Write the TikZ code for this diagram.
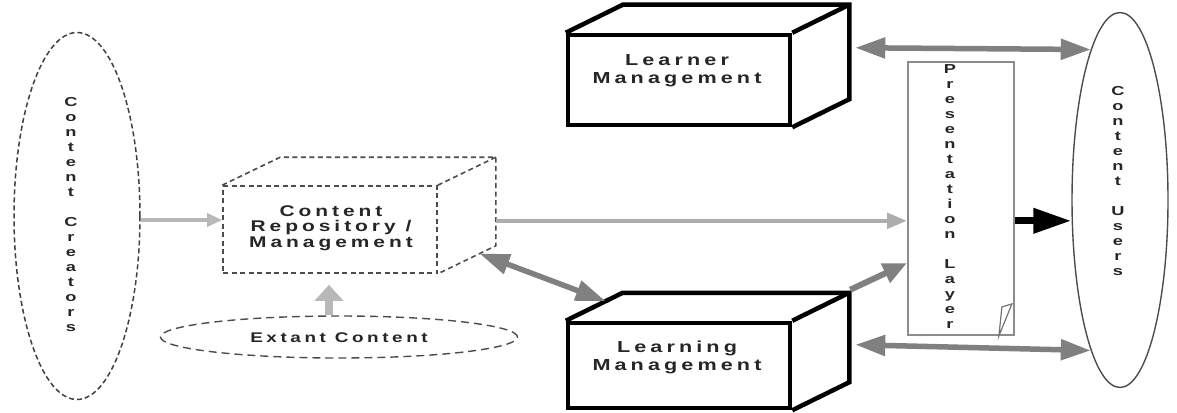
\documentclass[tikz,border=0pt]{standalone}
\usepackage{fontspec}
\setmainfont{Liberation Sans}
\newfontfamily\dfont{Liberation Sans Bold}[LetterSpace=19]
\newfontfamily\vfont{Liberation Sans Bold}
\usetikzlibrary{arrows.meta,shapes.geometric,calc}
\newcommand{\wx}[1]{\scalebox{1.35}[1]{#1}}
\newcommand{\vtext}[1]{\scalebox{1.4}[1]{\begin{tabular}{@{}c@{}}#1\end{tabular}}}
\begin{document}
\begin{tikzpicture}[x=1pt,y=-1pt,
  lab/.style={font=\dfont\fontsize{16}{18}\selectfont, text=black!85, align=center, inner sep=0pt},
  vlab/.style={font=\vfont\fontsize{13}{15}\selectfont, text=black!85, inner sep=0pt},
  heavybox/.style={draw=black, line width=4.5pt, line join=miter},
  dashbox/.style={draw=black!70, line width=1.6pt, dash pattern=on 5pt off 3.5pt},
  lg/.style={draw=black!28, line width=3.5pt, -{Triangle[length=15pt,width=13pt]}},
  lgup/.style={draw=black!28, line width=8pt, -{Triangle[length=16pt,width=28pt]}},
  lgmid/.style={draw=black!32, line width=4.5pt, -{Triangle[length=20pt,width=15pt]}},
  dg/.style={draw=black!50, line width=5.5pt, {Triangle[length=30pt,width=20pt]}-{Triangle[length=30pt,width=20pt]}},
  dgone/.style={draw=black!50, line width=6pt, -{Triangle[length=24pt,width=20pt]}},
  blk/.style={draw=black, line width=7pt, -{Triangle[length=38pt,width=24pt]}}
]
\useasboundingbox (0,0) rectangle (1177,412);

% Content creators
\node[ellipse, draw=black!75, line width=1.5pt, dash pattern=on 5pt off 3pt, minimum width=126pt, minimum height=367pt, inner sep=0pt] (cc) at (77,216) {};
\node[vlab] (cct) at (71,216) {\vtext{C\\o\\n\\t\\e\\n\\t\\ \\C\\r\\e\\a\\t\\o\\r\\s}};

% Content repository (dashed box)
\node[dashbox, minimum width=214pt, minimum height=87pt, inner sep=0pt] (cr) at (330,229.5) {};
\draw[dashbox] (cr.north west) -- ++(58,-28) -| ($(cr.south east)+(58,-28)$) coordinate (crbr) -- (cr.south east);
\draw[dashbox] (cr.north east) -- ++(58,-28);
\node[lab, font=\dfont\fontsize{15.5}{15.5}\selectfont] (crt) at (331,228) {\wx{Content}\\\wx{Repository /}\\\wx{Management}};

% Extant content
\node[ellipse, draw=black!70, line width=1.4pt, dash pattern=on 8pt off 5pt, minimum width=357pt, minimum height=42pt, inner sep=0pt] (ex) at (339,337) {};
\node[lab, font=\dfont\fontsize{14}{14}\selectfont] (ext) at (339,338) {\wx{Extant Content}};

% Learner management
\node[heavybox, minimum width=222pt, minimum height=90pt, inner sep=0pt] (lr) at (679,80) {};
\draw[heavybox] (lr.north west) -- ++(57,-28) -| ($(lr.south east)+(57,-28)$) -- (lr.south east);
\draw[heavybox] (lr.north east) -- ++(57,-28);
\node[lab] (lrt) at (677,71) {\wx{Learner}\\\wx{Management}};

% Learning management
\node[heavybox, minimum width=222pt, minimum height=85pt, inner sep=0pt] (ln) at (679,365.5) {};
\draw[heavybox] (ln.north west) -- ++(57,-28) coordinate (lnbl) -| ($(ln.south east)+(57,-28)$) -- (ln.south east);
\draw[heavybox] (ln.north east) -- ++(57,-28) coordinate (lnbr);
\node[lab] (lnt) at (677,357) {\wx{Learning}\\\wx{Management}};

% Presentation layer
\node[draw=black!45, line width=1.8pt, minimum width=106pt, minimum height=273pt, inner sep=0pt] (pl) at (961,198.5) {};
\draw[draw=black!55, line width=1.2pt] ($(pl.south east)+(-16,0)$) -- ($(pl.south east)+(-13,-29)$) -- ($(pl.south east)+(-3,-32)$) -- cycle;
\node[vlab] (plt) at (950,198) {\vtext{P\\r\\e\\s\\e\\n\\t\\a\\t\\i\\o\\n\\ \\L\\a\\y\\e\\r}};

% Content users
\node[ellipse, draw=black!70, line width=1.4pt, minimum width=96pt, minimum height=375pt, inner sep=0pt] (cu) at (1120,200) {};
\node[vlab] (cut) at (1118,182) {\vtext{C\\o\\n\\t\\e\\n\\t\\ \\U\\s\\e\\r\\s}};

% connectors
\coordinate (crR) at ($(crbr)+(0,-25)$);
\draw[lg] ([yshift=-4pt]cc.east) -- ([yshift=9.5pt]cr.west);
\draw[lgup] ([xshift=-10pt]ex.north) -- ([xshift=-1pt,yshift=-11pt]cr.south);
\draw[lgmid] (crR) -- (pl.west |- crR);
\draw[blk] (pl.east |- crR) -- (cu.west |- crR);
\draw[dg] ($(cr.south east)!0.72!(crbr)$) -- ($(ln.north west)!0.7!(lnbl)$);
\draw[dgone] ($(lnbr)+(1,-3)$) -- ([yshift=-64.5pt]pl.west);
\draw[dg] ($(lr.north east)+(63,15)$) -- (cu.101);
\draw[dg] ($(ln.north east)+(63,24)$) -- (cu.259);
\end{tikzpicture}
\end{document}
